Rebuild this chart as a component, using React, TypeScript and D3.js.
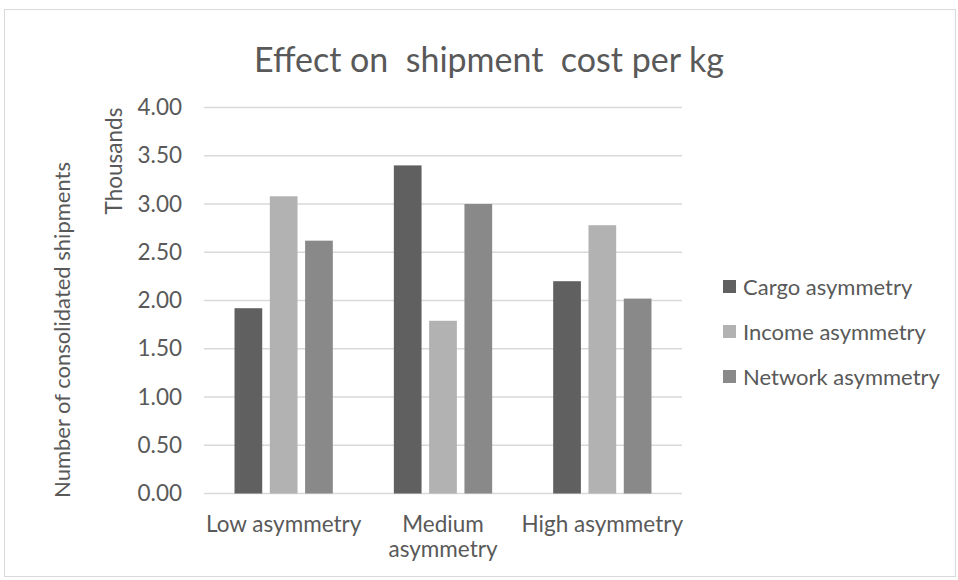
import React from "react";
import * as d3 from "d3";

const categories: string[][] = [["Low asymmetry"], ["Medium", "asymmetry"], ["High asymmetry"]];
const seriesNames = ["Cargo asymmetry", "Income asymmetry", "Network asymmetry"];
const cargo = [1.92, 3.40, 2.20];
const income = [3.08, 1.79, 2.78];
const network = [2.62, 3.00, 2.02];
const yTicks = [0, 0.5, 1, 1.5, 2, 2.5, 3, 3.5, 4];
const colors = ["#606060", "#b2b2b2", "#898989"];

const W = 958;
const H = 580;
const FONT = "Lato, 'Open Sans', sans-serif";
const TXT = "#595959";

export default function App() {
  const series = [cargo, income, network];
  const x0 = d3
    .scaleBand<number>()
    .domain(categories.map((_, i) => i))
    .range([204, 682])
    .paddingInner(0.383)
    .paddingOuter(0.1915);
  const x1 = d3
    .scaleBand<number>()
    .domain(seriesNames.map((_, i) => i))
    .range([0, x0.bandwidth()])
    .paddingInner(0.215)
    .paddingOuter(0);
  const y = d3.scaleLinear().domain([0, 4]).range([493.5, 107.5]);
  const fmt = d3.format(".2f");

  return (
    <svg
      width={W}
      height={H}
      style={{ position: "absolute", left: 0, top: 0, background: "#fff" }}
      fontFamily={FONT}
    >
      <rect x={4.5} y={9.5} width={951} height={567} fill="#fff" stroke="#d9d9d9" strokeWidth={1} />
      <text x={489} y={72} textAnchor="middle" fontSize={34} fill={TXT} style={{ whiteSpace: "pre" }}>
        {"Effect on  shipment  cost per kg"}
      </text>
      {yTicks.map((t) => (
        <g key={t}>
          <line x1={204} x2={682} y1={y(t)} y2={y(t)} stroke="#d9d9d9" strokeWidth={1.4} />
          <text x={182} y={y(t) + 7.5} textAnchor="end" fontSize={22.5} fill={TXT}>
            {fmt(t)}
          </text>
        </g>
      ))}
      {categories.map((c, ci) => (
        <g key={ci} transform={`translate(${x0(ci)},0)`}>
          {series.map((s, si) => (
            <rect
              key={si}
              x={x1(si)}
              y={y(s[ci])}
              width={x1.bandwidth()}
              height={y(0) - y(s[ci])}
              fill={colors[si]}
            />
          ))}
        </g>
      ))}
      {categories.map((c, ci) => (
        <text
          key={ci}
          x={(x0(ci) as number) + x0.bandwidth() / 2}
          y={532}
          textAnchor="middle"
          fontSize={22.5}
          fill={TXT}
        >
          {c.map((line, li) => (
            <tspan key={li} x={(x0(ci) as number) + x0.bandwidth() / 2} dy={li === 0 ? 0 : 25}>
              {line}
            </tspan>
          ))}
        </text>
      ))}
      <text transform="translate(122,161) rotate(-90)" textAnchor="middle" fontSize={22.5} fill={TXT}>
        Thousands
      </text>
      <text transform="translate(70,330) rotate(-90)" textAnchor="middle" fontSize={22} fill={TXT}>
        Number of consolidated shipments
      </text>
      {seriesNames.map((n, i) => (
        <g key={n} transform={`translate(723,${287 + i * 45})`}>
          <rect x={0} y={-7} width={13} height={13} fill={colors[i]} />
          <text x={20} y={7.5} fontSize={22} fill={TXT}>
            {n}
          </text>
        </g>
      ))}
    </svg>
  );
}
